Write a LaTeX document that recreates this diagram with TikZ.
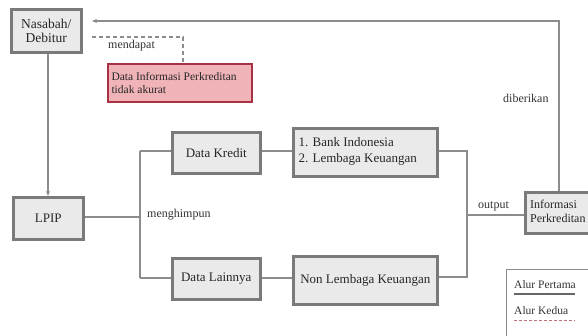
\documentclass[tikz,border=0pt]{standalone}
\usepackage{fontspec}
\setmainfont{Liberation Serif}
\usetikzlibrary{arrows.meta}
\definecolor{boxfill}{HTML}{EAEAEA}
\definecolor{boxline}{HTML}{7A7A7A}
\definecolor{conn}{HTML}{8C8C8C}
\definecolor{redfill}{HTML}{F0B4B8}
\definecolor{redline}{HTML}{A83244}
\tikzset{
  gbox/.style={draw=boxline, fill=boxfill, line width=2.6pt, inner sep=0pt},
  rbox/.style={draw=redline, fill=redfill, line width=2.4pt, inner sep=0pt},
  conline/.style={draw=conn, line width=1.4pt},
  dashline/.style={draw=conn, line width=1.2pt, dash pattern=on 4pt off 3pt},
  lbl/.style={font=\fontsize{12}{13}\selectfont, text=black!80, inner sep=0pt},
  btext/.style={font=\fontsize{13}{16}\selectfont, text=black!85},
  tip/.style={-{Stealth[length=5pt,width=4pt]}}
}
\begin{document}
\begin{tikzpicture}[x=1pt,y=-1pt]
\useasboundingbox (0,0) rectangle (588,336);
\fill[white] (0,0) rectangle (588,336);
% boxes
\node[gbox, minimum width=70pt, minimum height=43pt, anchor=north west, align=center, btext, font=\fontsize{13.5}{14}\selectfont] (nas) at (10,8) {Nasabah/\\Debitur};
\node[rbox, minimum width=144pt, minimum height=38pt, anchor=north west] (red) at (107,63) {};
\node[btext, anchor=west, align=left, font=\fontsize{11.5}{12.5}\selectfont] (redt) at (108,83) {Data Informasi Perkreditan\\tidak akurat};
\node[gbox, minimum width=70pt, minimum height=42pt, anchor=north west, btext] (lpip) at (12,196) {LPIP};
\node[gbox, minimum width=88pt, minimum height=41pt, anchor=north west, btext] (dk) at (171,131) {Data Kredit};
\node[gbox, minimum width=88pt, minimum height=41pt, anchor=north west, btext] (dl) at (171,257) {Data Lainnya};
\node[gbox, minimum width=144pt, minimum height=48pt, anchor=north west] (bank) at (292,127) {};
\node[btext, anchor=west, align=left] (bankt) at (295,151) {1. Bank Indonesia\\2. Lembaga Keuangan};
\node[gbox, minimum width=144pt, minimum height=48pt, anchor=north west, btext] (nlk) at (292,255) {Non Lembaga Keuangan};
\node[gbox, minimum width=80pt, minimum height=41pt, anchor=north west] (info) at (524,191) {};
\node[btext, anchor=west, align=left, font=\fontsize{12}{14}\selectfont, inner sep=0pt] (infot) at (530,211) {Informasi\\Perkreditan};
% junction coordinates
\coordinate (jl) at (140,217);
\coordinate (jlt) at (140,151);
\coordinate (jlb) at (140,278);
\coordinate (jr) at (467,215);
\coordinate (jrt) at (467,151);
\coordinate (jrb) at (467,277);
\coordinate (topr) at (559,21);
\coordinate (topl) at (92,21);
\coordinate (dstart) at (92,37);
\coordinate (dcorner) at (183,37);
% connectors
\draw[conline, tip] (nas.south -| 48,0) -- (lpip.north -| 48,0);
\draw[conline] (lpip.east |- jl) -- (jl);
\draw[conline] (jlt) -- (jlb);
\draw[conline] (jlt) -- (dk.west |- jlt);
\draw[conline] (jlb) -- (dl.west |- jlb);
\draw[conline] (dk.east |- jlt) -- (bank.west |- jlt);
\draw[conline] (dl.east |- jlb) -- (nlk.west |- jlb);
\draw[conline] (bank.east |- jrt) -- (jrt) -- (jrb) -- (nlk.east |- jrb);
\draw[conline] (jr) -- (info.west |- jr);
\draw[conline, tip] (info.north -| topr) -- (topr) -- (topl);
\draw[dashline] (dstart) -- (dcorner) -- (red.north -| dcorner);
% labels
\node[lbl, anchor=west] (lmend) at (108,46) {mendapat};
\node[lbl, anchor=west] (lmeng) at (147,215) {menghimpun};
\node[lbl, anchor=west] (lout) at (478,206) {output};
\node[lbl, anchor=west] (lber) at (503,98) {diberikan};
% legend
\node[draw=conn, line width=1.2pt, fill=white, minimum width=90pt, minimum height=80pt, anchor=north west] (leg) at (506,269) {};
\node[lbl, anchor=west, font=\fontsize{11.5}{12}\selectfont] (l1) at (514,285) {Alur Pertama};
\node[lbl, anchor=west, font=\fontsize{11.5}{12}\selectfont] (l2) at (514,311) {Alur Kedua};
\coordinate (l1a) at (514,294);
\coordinate (l1b) at (575,294);
\coordinate (l2a) at (514,320);
\coordinate (l2b) at (575,320);
\draw[draw=black!60, line width=1.2pt] (l1a) -- (l1b);
\draw[draw=redline!70, line width=0.9pt, dash pattern=on 3pt off 2pt] (l2a) -- (l2b);
\end{tikzpicture}
\end{document}
